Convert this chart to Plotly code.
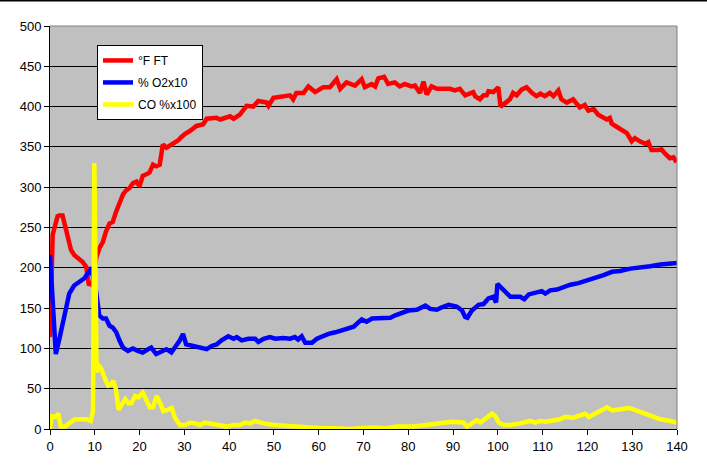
import plotly.graph_objects as go

# ---- data ----
t_ft = [0, 0.6, 1.7, 2.1, 2.8, 3.6, 4.3, 4.7, 5.4, 6.2, 7.3, 8.1, 8.4, 8.7, 9.2, 9.5, 10.3, 11, 11.8,
        12.5, 13.3, 14, 14.8, 15.5, 16.3, 17, 17.8, 18.5, 19.3, 20, 20.7, 21.5, 22.2, 23, 23.7, 24.5,
        25.2, 26, 26.7, 27.8, 28.6, 29.3, 30.1, 31.3, 32.7, 34.2, 35, 37.2, 38, 40.2, 41, 42.4, 43.9,
        45.4, 46.5, 48.4, 48.8, 49.9, 52.1, 53.6, 54.3, 55, 56.6, 57.7, 59.2, 61, 62.5, 64, 64.8, 65.9,
        66.2, 68.1, 69.6, 70.3, 71.8, 72.6, 73.3, 74.6, 75.5, 77, 78.1, 79.2, 80.7, 81.5, 82.6, 83.4,
        84.1, 85.2, 86.4, 89.3, 90.4, 91.5, 92.7, 94.5, 94.9, 96, 96.8, 97.5, 97.9, 99, 100.1, 100.6,
        101.6, 102.7, 103.4, 104.2, 105.3, 106.4, 107.6, 108.6, 109.5, 110.5, 111.6, 112.4, 113.5,
        114.2, 115.4, 116.8, 118.3, 119.4, 120.2, 121.4, 122.4, 123.5, 124.3, 125, 125.4, 126.5, 128,
        128.8, 129.9, 130.6, 131.7, 132.9, 133.6, 134.3, 135.8, 136.5, 137.3, 138.4, 139.2, 139.9]
ft = [114, 241, 264, 265, 265, 245, 232, 222, 216, 212, 207, 201, 191, 178, 182, 178, 212, 224, 232,
      245, 255, 257, 270, 280, 291, 296, 299, 305, 307, 301, 314, 316, 318, 328, 326, 328,
      353, 349, 351, 355, 358, 362, 366, 370, 376, 378, 385, 386, 384, 388, 385, 390, 401,
      400, 407, 405, 401, 411, 412, 414, 409, 417, 417, 425, 418, 424, 424, 434, 422, 429,
      430, 426, 434, 424, 428, 425, 435, 437, 428, 430, 425, 428, 425, 426, 417, 431,
      415, 425, 422, 422, 420, 422, 414, 418, 413, 409, 414, 414, 419, 418, 424, 400,
      405, 409, 417, 414, 421, 424, 417, 413, 416, 413, 417, 413, 420,
      409, 405, 409, 399, 402, 395, 397, 390, 386, 384, 386, 379, 375, 369,
      367, 357, 361, 357, 354, 356, 346, 346, 347, 342, 336, 337, 331]

t_o2 = [0, 1, 1.3, 2.1, 2.8, 3.6, 4.3, 5.4, 6.6, 7.7, 8.4, 9, 9.6, 10.3, 11, 11.8, 12.5, 13.3, 14,
        14.8, 15.5, 16.3, 17.4, 18.5, 19.6, 20.7, 21.9, 22.6, 23.7, 24.9, 26, 27.1, 28.2, 29, 29.7,
        30.4, 32, 33.5, 35, 36.1, 37.2, 38.3, 39.8, 41, 41.7, 42.8, 44.3, 45.8, 46.5, 47.7, 49.1,
        50.3, 52.1, 53.6, 54.7, 55.4, 56.2, 57, 58.5, 59.6, 60.7, 62.2, 63.7, 64.8, 66.3, 67.8,
        69.6, 70.7, 71.9, 73.7, 76, 77.1, 78.6, 80, 81.9, 83.8, 84.9, 86.4, 87.5, 89, 90.8, 92,
        92.7, 93.2, 94.2, 95.7, 96.8, 97.9, 99, 99.6, 99.9, 101.3, 102.8, 105, 105.9, 106.9, 108.7,
        109.8, 110.6, 111.7, 113.2, 114.7, 116.2, 118, 119.9, 121.7, 123.6, 125.5, 127.3, 129.6,
        131.8, 134, 136.3, 138.5, 140]
o2 = [216, 99, 93, 112, 132, 155, 168, 178, 182, 187, 193, 197, 190, 170, 141, 137, 137, 128, 126,
      120, 110, 101, 97, 100, 97, 95, 99, 101, 93, 96, 99, 95, 103, 110, 118,
      105, 103, 101, 99, 103, 105, 110, 115, 112, 114, 110, 112, 112, 108, 112, 114,
      112, 113, 112, 114, 111, 115, 107, 107, 112, 115, 118, 120, 122, 125, 127,
      136, 133, 137, 137, 138, 141, 144, 147, 148, 153, 149, 148, 151, 154, 152, 147,
      139, 138, 147, 154, 155, 162, 164, 157, 180, 172, 164, 164, 161, 167, 169,
      171, 168, 172, 173, 176, 179, 181, 184, 188, 191, 195, 196, 199,
      200, 202, 204, 205, 206]

t_co = [0, 0.4, 1.2, 1.9, 2.4, 3.4, 4.5, 5.6, 7.1, 8.2, 9.1, 9.6, 9.9, 10.2, 10.4, 10.8, 11.5, 12.3,
        13, 13.8, 14.1, 14.7, 15.3, 16, 16.8, 17.5, 18.2, 19, 19.7, 20.7, 21.6, 22.3, 23, 23.8, 24.6,
        25.3, 26.4, 27.2, 27.9, 29, 30.2, 31.3, 32.4, 33.5, 34.6, 35.7, 36.8, 38.3, 39.5, 41, 42.4,
        43.6, 44.7, 45.8, 47.7, 49.9, 52.1, 54.4, 56.6, 58.8, 61, 63.3, 65.5, 67, 69.3, 72.2, 75.2,
        77.4, 81.2, 84.1, 87.1, 89.7, 92.3, 93.1, 94.2, 95.3, 96.1, 97.6, 98.7, 99.4, 100.2, 101.3,
        102.8, 105, 107.2, 108.3, 109.5, 110.6, 112.4, 113.9, 115, 116.9, 118.4, 119.5, 120.3, 121.7,
        122.9, 124.4, 125.5, 127.3, 129.2, 130.4, 131.8, 134, 136.3, 138.5, 140]
co = [0, 16, 15, 19, 3, 3, 8, 12, 12, 12, 10, 22, 330, 70, 70, 80, 74, 62,
      54, 56, 60, 50, 24, 30, 37, 32, 32, 41, 39, 45, 35, 27, 27, 41, 32,
      22, 24, 26, 14, 5, 5, 8, 7, 5, 8, 7, 6, 4, 3, 5, 5,
      8, 7, 10, 7, 5, 4, 3, 2, 2, 1, 1, 0, 0, 1, 2, 1,
      3, 3, 5, 6, 9, 8, 3, 7, 11, 8, 14, 19, 16, 8, 5,
      5, 7, 10, 8, 10, 9, 10, 12, 15, 14, 17, 19, 15, 19,
      22, 27, 23, 24, 26, 24, 21, 17, 12, 10, 8]

names = ["°F FT", "% O2x10", "CO %x100"]
colors = ["#FF0000", "#0000FF", "#FFFF00"]
x_ticks = list(range(0, 141, 10))
y_ticks = list(range(0, 501, 50))

fig = go.Figure()
for i, (tx, ty) in enumerate([(t_ft, ft), (t_o2, o2), (t_co, co)]):
    fig.add_trace(go.Scatter(x=tx, y=ty, mode="lines", name=names[i],
                             legendgroup=str(i),
                             line=dict(color=colors[i], width=4.5)))

font = dict(family="Liberation Sans, Arial, sans-serif", size=13, color="black")
fig.update_layout(
    width=707, height=475,
    margin=dict(l=50, r=30, t=26, b=46),
    paper_bgcolor="white", plot_bgcolor="#C0C0C0",
    font=font,
    showlegend=True,
    legend=dict(x=0.075, y=0.953, xanchor="left", yanchor="top",
                bgcolor="white", bordercolor="black", borderwidth=1,
                font=dict(family="Liberation Sans, Arial, sans-serif", size=12, color="black"),
                tracegroupgap=3, itemwidth=30),
    xaxis=dict(range=[0, 140], tickvals=x_ticks, showgrid=False, zeroline=False,
               showline=True, linecolor="black", linewidth=1, automargin=False,
               ticks="outside", ticklen=5, tickcolor="black", fixedrange=True),
    yaxis=dict(range=[0, 500], tickvals=y_ticks, showgrid=True, gridcolor="black", gridwidth=1,
               zeroline=False, showline=True, linecolor="black", linewidth=1, automargin=False,
               ticks="outside", ticklen=5, tickcolor="black", fixedrange=True),
    shapes=[
        dict(type="line", xref="paper", yref="paper", x0=0, x1=1, y0=1, y1=1,
             line=dict(color="#808080", width=1), layer="above"),
        dict(type="line", xref="paper", yref="paper", x0=1, x1=1, y0=0, y1=1,
             line=dict(color="#808080", width=1), layer="above"),
        dict(type="line", xref="paper", yref="paper", x0=-0.0797, x1=1.048, y0=1.0633, y1=1.0633,
             line=dict(color="black", width=2), layer="above"),
    ],
)

fig.write_html("out.html", config={"displayModeBar": False},
               post_script="document.body.style.margin='0';document.body.style.overflow='hidden';")
